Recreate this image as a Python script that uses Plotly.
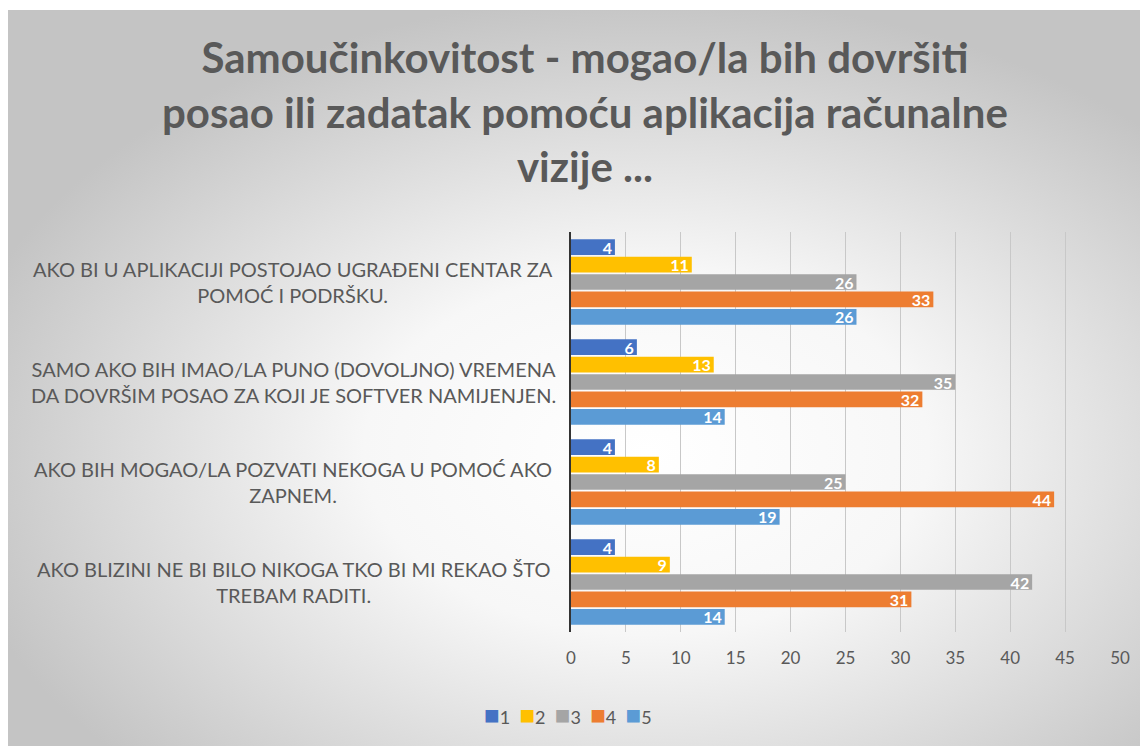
import base64
import plotly.graph_objects as go

categories = [
    "AKO BI U APLIKACIJI POSTOJAO UGRAĐENI CENTAR ZA<br>POMOĆ I PODRŠKU.",
    "SAMO AKO BIH IMAO/LA PUNO (DOVOLJNO) VREMENA<br>DA DOVRŠIM POSAO ZA KOJI JE SOFTVER NAMIJENJEN.",
    "AKO BIH MOGAO/LA POZVATI NEKOGA U POMOĆ AKO<br>ZAPNEM.",
    "AKO BLIZINI NE BI BILO NIKOGA TKO BI MI REKAO ŠTO<br>TREBAM RADITI.",
]
series_names = ["1", "2", "3", "4", "5"]
s1 = [4, 6, 4, 4]
s2 = [11, 13, 8, 9]
s3 = [26, 35, 25, 42]
s4 = [33, 32, 44, 31]
s5 = [26, 14, 19, 14]
series_values = [s1, s2, s3, s4, s5]
colors = ["#4472C4", "#FFC000", "#A5A5A5", "#ED7D31", "#5B9BD5"]
x_ticks = [0, 5, 10, 15, 20, 25, 30, 35, 40, 45, 50]
title_text = "Samoučinkovitost - mogao/la bih dovršiti<br>posao ili zadatak pomoću aplikacija računalne<br>vizije ..."

# page body has an 8px margin; figure coordinates = screenshot - 8
OFF = 8
W, H = 1140, 738
L, R, T, B = 571 - OFF, 28, 232 - OFF, 114
pw, ph = W - L - R, H - T - B


def px_x(sx):
    return (sx - OFF - L) / pw


def px_y(sy):
    return (H - B - (sy - OFF)) / ph


fig = go.Figure()
for name, vals, col in zip(series_names, series_values, colors):
    fig.add_trace(go.Bar(
        name=name, y=categories, x=vals, orientation="h",
        marker=dict(color=col, line=dict(width=0)),
        text=[str(v) for v in vals], textposition="inside", textangle=0,
        insidetextanchor="end", constraintext="none",
        textfont=dict(color="white", size=16, family="Lato", weight="bold"),
        hoverinfo="x+name", showlegend=False,
    ))

svg = (
    '<svg xmlns="http://www.w3.org/2000/svg" width="1140" height="736" viewBox="0 0 1140 736" preserveAspectRatio="none">'
    '<defs><radialGradient id="g" cx="0.56" cy="0.6" r="0.62" gradientUnits="objectBoundingBox">'
    '<stop offset="0" stop-color="#ffffff"/>'
    '<stop offset="0.4" stop-color="#f7f7f7"/>'
    '<stop offset="1" stop-color="#c4c4c4"/>'
    '</radialGradient></defs>'
    '<rect width="1140" height="736" fill="url(#g)"/></svg>'
)
src = "data:image/svg+xml;base64," + base64.b64encode(svg.encode()).decode()

annotations = []
for cat in categories:
    annotations.append(dict(
        text=cat, xref="paper", yref="y", x=px_x(293), y=cat,
        xanchor="center", yanchor="middle", align="center", showarrow=False,
        font=dict(family="Lato", size=20, color="#595959"),
    ))

# title
annotations.append(dict(
    text="<b>" + title_text + "</b>", xref="paper", yref="paper",
    x=px_x(585), y=px_y(112), xanchor="center", yanchor="middle",
    align="center", showarrow=False,
    font=dict(family="Lato", size=42, color="#595959"),
))

# legend (square marker + series name, colours from the series list)
legend_parts = []
for name, col in zip(series_names, colors):
    legend_parts.append(
        '<span style="color:%s;font-size:26px">■</span>%s' % (col, name)
    )
annotations.append(dict(
    text="  ".join(legend_parts), xref="paper", yref="paper",
    x=px_x(568), y=px_y(714), xanchor="center", yanchor="middle",
    showarrow=False, font=dict(family="Lato", size=18, color="#595959"),
))

fig.update_layout(
    width=W, height=H,
    margin=dict(l=L, r=R, t=T, b=B, autoexpand=False),
    paper_bgcolor="white", plot_bgcolor="rgba(0,0,0,0)",
    barmode="group", bargap=0.13, bargroupgap=0.1,
    images=[dict(
        source=src, xref="paper", yref="paper",
        x=px_x(8), y=px_y(10), sizex=px_x(W + OFF) - px_x(8),
        sizey=px_y(10) - px_y(H + OFF),
        xanchor="left", yanchor="top", sizing="stretch", layer="below",
    )],
    xaxis=dict(
        range=[0, 50], tickvals=x_ticks, showgrid=True, gridcolor="#c8c8c8",
        gridwidth=1, zeroline=False, showline=False,
        tickfont=dict(family="Lato", size=17, color="#595959"), ticks="",
        ticklabelstandoff=14,
    ),
    yaxis=dict(
        autorange="reversed", showticklabels=False, showgrid=False,
        showline=True, linecolor="#333333", linewidth=2, zeroline=False, ticks="",
    ),
    annotations=annotations,
    showlegend=False,
)

fig.write_html("out.html")
